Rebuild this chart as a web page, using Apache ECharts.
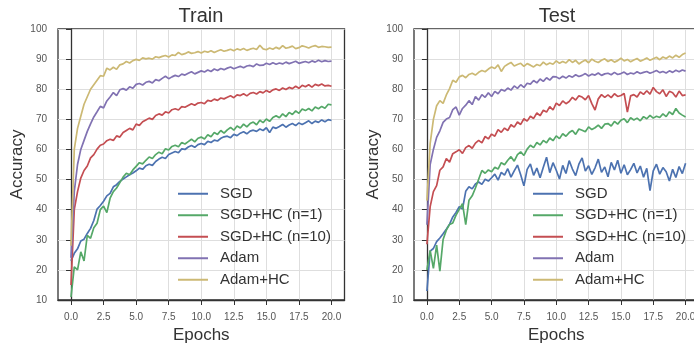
<!DOCTYPE html>
<html>
<head>
<meta charset="utf-8">
<script src="https://cdn.jsdelivr.net/npm/echarts@6/dist/echarts.min.js"></script>
<style>
  html, body { margin: 0; padding: 0; background: #ffffff; }
  #chart { width: 694px; height: 346px; }
</style>
</head>
<body>
<div id="chart"></div>
<script>
// epochs sampled every quarter epoch, 0 .. 20
const epochs = Array.from({ length: 81 }, (_, i) => i * 0.25);
const xTicks = [0, 2.5, 5, 7.5, 10, 12.5, 15, 17.5, 20];
const seriesNames = ["SGD", "SGD+HC (n=1)", "SGD+HC (n=10)", "Adam", "Adam+HC"];
const seriesColors = ["#4C72B0", "#55A868", "#C44E52", "#8172B2", "#CCB974"];
const panelTitles = ["Train", "Test"];

// ---- Train ----
const trainSgd = [
  23, 25.5, 27, 29.6, 30.2, 32.1, 33.8, 36.4,
  40.2, 41.4, 42.8, 44.6, 45.4, 47.6, 48.3, 49.4,
  50.2, 50.9, 51.6, 52.2, 52.9, 53.8, 53.4, 54.6,
  55.1, 54.7, 56.0, 56.8, 57.4, 57.0, 58.3, 58.8,
  59.3, 58.9, 60.2, 60.0, 60.8, 61.3, 60.7, 61.6,
  62.0, 61.6, 62.7, 62.3, 63.1, 62.8, 63.7, 64.2,
  64.4, 63.9, 65.0, 64.6, 65.4, 65.9, 65.2, 66.1,
  66.4, 66.0, 66.8, 66.3, 67.2, 65.6, 67.4, 67.0,
  67.6, 68.3, 67.4, 68.1, 68.6, 67.9, 68.8, 68.3,
  68.9, 69.5, 68.6, 69.4, 69.0, 69.8, 69.2, 69.9,
  69.6,
];
const trainSgdHc1 = [
  11, 21, 20, 26, 23, 31.5, 30.5, 34,
  35.5, 40, 41.2, 39, 43.8, 46, 47.2, 49,
  50.8, 52.1, 51.6, 53.2, 54.4, 55.6, 55.2, 56.4,
  57.5, 57.0, 58.3, 59.1, 58.6, 60.2, 59.8, 61.0,
  61.4, 60.9, 62.3, 61.8, 62.6, 63.4, 62.5, 63.7,
  64.1, 63.5, 64.9, 64.2, 65.6, 65.0, 66.3, 65.4,
  66.5, 67.3, 66.4, 67.8, 67.1, 68.4, 67.5, 68.6,
  69.1, 68.2, 69.7, 68.9, 70.1, 69.3, 70.6, 71.2,
  70.5, 71.8, 70.9, 72.3, 71.6, 72.8, 72.0, 73.4,
  72.9, 73.6, 72.8, 74.1, 73.5, 74.3, 73.7, 75.0,
  74.8,
];
const trainSgdHc10 = [
  15, 40, 46, 50.5, 53, 54.5, 57.2, 58.3,
  60.1, 61.4, 61.8, 62.9, 63.4, 63.0, 64.5, 64.1,
  65.6, 66.3, 67.0, 66.5, 68.4, 68.0, 69.2, 69.8,
  70.4, 70.0, 71.3, 71.8, 71.4, 72.5, 72.1, 73.2,
  73.5, 73.1, 74.2, 74.0, 74.6, 75.2, 74.7, 75.4,
  75.6, 75.2, 76.3, 76.0, 76.7, 76.3, 77.1, 76.8,
  77.3, 77.8, 77.2, 78.1, 77.9, 78.5, 77.8, 78.6,
  78.9, 78.4, 79.2, 78.8, 79.6, 79.0, 79.8, 80.1,
  79.6, 80.4, 79.9, 80.6, 80.2, 81.0, 80.3, 81.3,
  80.8, 81.5, 80.7, 81.6, 81.2, 81.7, 81.1, 81.3,
  81.0,
];
const trainAdam = [
  24, 46, 55, 60, 63, 66, 68.5, 70.8,
  72.5, 74.3, 73.8, 76.1, 77.4, 78.9, 77.9, 79.8,
  80.2, 79.7, 80.8, 80.3, 81.6, 81.9, 81.4, 82.3,
  82.6, 82.1, 83.2, 82.8, 83.6, 84.3, 83.5, 84.1,
  84.6, 84.2, 85.0, 84.7, 85.3, 85.8, 85.1, 85.6,
  86.1, 85.7, 86.4, 85.9, 86.7, 86.2, 86.9, 86.5,
  87.0, 87.4, 86.8, 87.2, 87.6, 87.1, 87.7, 87.9,
  87.5, 88.4, 87.9, 88.0, 88.6, 88.2, 88.8, 88.3,
  88.7, 88.4, 89.0, 88.5, 88.9, 89.3, 88.6, 88.9,
  89.2, 88.8, 89.4, 89.0, 89.6, 89.1, 89.5, 89.2,
  89.3,
];
const trainAdamHc = [
  28, 60, 67, 71, 75, 77.5, 80, 81.5,
  83, 84.5, 84.3, 87, 86.4, 87.3, 86.6, 88.1,
  88.4, 89.2, 88.7, 89.5, 89.9, 89.6, 90.4, 90.1,
  90.3, 90.0, 90.8, 90.5, 90.9, 91.2, 90.7, 91.4,
  91.2, 92.2, 91.5, 91.8, 92.4, 91.9, 92.1, 92.5,
  92.0, 92.6, 92.3, 92.8, 92.2, 92.7, 93.1, 92.6,
  92.9, 93.3, 92.8, 93.4, 93.0, 93.5, 92.9, 93.3,
  93.6, 93.2, 94.6, 93.4, 93.1, 93.7, 93.3, 93.9,
  93.4, 94.5, 93.6, 93.9, 94.3, 93.5, 93.8, 94.4,
  94.1, 93.7, 94.2, 94.5, 93.9, 94.2, 94.1, 93.9,
  94.0,
];

// ---- Test ----
const testSgd = [
  13, 26.2, 27.1, 29.4, 30.6, 32.0, 33.5, 35.2,
  37.6, 39.1, 41.0, 40.2, 46.1, 47.6, 46.9, 48.5,
  49.2, 48.4, 50.1, 49.5, 50.6, 51.8, 49.8, 52.4,
  51.5, 53.6, 50.8, 52.9, 54.8, 51.6, 47.9, 53.4,
  55.2, 51.4, 53.8, 50.6, 54.1, 57.4, 52.3, 55.6,
  53.1, 50.2, 54.7, 52.0, 56.3, 53.5, 51.3, 55.1,
  57.2, 52.8, 54.6, 51.7, 53.9, 56.8, 52.4, 54.2,
  50.9, 55.7, 53.2, 56.4, 52.1, 54.9, 51.6, 53.3,
  55.4, 52.2, 54.5, 50.8, 53.7, 46.3, 52.9, 55.1,
  51.8, 54.0, 52.6, 49.5, 53.4, 50.7, 54.3, 52.0,
  55.4,
];
const testSgdHc1 = [
  20, 26.5, 20.5, 28.2, 19.6, 30.1, 33.2, 35.1,
  35.6, 38.2, 40.1, 42.0, 35.0, 43.1, 44.6, 47.2,
  50.1, 53.0, 52.1, 53.2, 52.6, 54.1, 53.5, 55.6,
  54.9, 56.4, 57.6, 56.1, 58.3, 59.2, 58.0, 60.1,
  61.4, 60.6, 62.3, 61.5, 63.0, 62.2, 63.8, 62.9,
  64.5, 63.6, 65.2, 64.4, 65.6, 66.3, 65.0, 66.8,
  66.4, 65.9, 67.5, 66.6, 67.2, 68.1, 67.0, 68.4,
  68.6, 67.8, 69.3, 68.4, 69.7, 70.2, 68.9, 70.5,
  69.8, 70.4, 69.5, 70.9, 70.2, 71.3, 70.4, 71.0,
  70.6, 71.8, 70.9, 72.5, 71.6, 73.6, 72.1, 71.4,
  70.8,
];
const testSgdHc10 = [
  28.5, 41, 46, 48, 53.1, 54.2, 57.0, 55.8,
  58.6, 59.2, 59.9, 58.7, 60.6, 61.3, 60.4, 62.1,
  63.0, 62.2, 64.3, 63.5, 65.1, 64.4, 66.6, 65.7,
  67.1, 66.3, 68.2, 67.4, 69.1, 68.3, 70.2, 69.4,
  71.0, 70.3, 72.1, 71.2, 73.0, 72.4, 74.2, 73.1,
  75.4, 74.6, 76.1, 75.2, 75.9, 77.3, 76.4, 77.8,
  77.4, 76.5, 77.9, 75.2, 73.1, 76.8, 78.2, 77.3,
  78.1, 77.2, 78.5, 77.6, 77.9, 78.6, 72.4, 77.8,
  78.2, 77.4, 79.1, 78.3, 79.5, 78.4, 80.6, 79.2,
  78.5, 79.8, 77.6, 79.3, 78.8, 77.4, 79.4, 77.9,
  78.1,
];
const testAdam = [
  35, 55, 60, 64, 66.2, 69.0, 70.1, 70.6,
  73.2, 74.1, 71.4, 73.6, 74.7, 76.2, 74.9, 77.6,
  76.4, 78.2, 77.3, 78.8, 77.6, 79.3, 78.5, 79.9,
  79.4, 80.4, 79.7, 81.1, 80.3, 81.5, 80.6, 82.0,
  81.7, 82.9, 82.1, 83.4, 82.6, 83.8, 83.0, 84.2,
  84.1, 83.5, 84.3, 83.7, 84.5, 84.0, 84.8, 84.2,
  84.6, 85.2, 84.4, 85.0, 84.7, 85.4, 84.6, 85.1,
  85.3, 84.8, 85.6, 84.9, 85.2, 85.7, 84.9, 85.4,
  85.1, 85.8, 85.2, 85.6, 85.9, 85.3, 85.7, 86.2,
  85.5, 85.9, 85.4, 86.1, 85.6, 86.3, 85.8, 86.4,
  86.0,
];
const testAdamHc = [
  43, 62, 70, 74.5, 76.2, 75.3, 78.1, 80.2,
  83.0, 82.3, 84.1, 84.6, 83.8, 84.9, 85.3, 84.7,
  85.6, 86.2, 85.8, 86.7, 87.4, 86.9, 88.1, 85.9,
  87.6, 88.3, 88.9, 87.7, 88.2, 88.6, 87.6, 88.5,
  88.0, 87.4, 88.2, 87.8, 89.0, 88.1, 88.7, 88.3,
  89.4, 88.6, 89.2, 88.7, 89.8, 88.9, 89.6, 88.4,
  89.1, 89.7, 88.8, 90.0, 89.3, 88.9, 89.6, 90.1,
  89.2, 89.8, 89.0, 89.5, 90.3, 89.4, 89.9, 89.1,
  89.7, 90.2, 89.3, 89.8, 90.4, 89.6, 90.1, 90.6,
  89.8, 90.7, 90.2, 91.0, 90.4, 91.3, 90.6, 91.5,
  92.0,
];

const panels = [
  [trainSgd, trainSgdHc1, trainSgdHc10, trainAdam, trainAdamHc],
  [testSgd, testSgdHc1, testSgdHc10, testAdam, testAdamHc],
];

const fontFamily = '"Liberation Sans", Arial, sans-serif';
const gridLayout = [
  { left: 58, top: 29, width: 286.5, height: 271 },
  { left: 414, top: 29, width: 284.5, height: 271 },
];
const legendLeft = [178, 533];

function makeXAxis(gridIndex) {
  return {
    type: "value",
    gridIndex,
    min: -1,
    max: 21,
    name: "Epochs",
    nameLocation: "middle",
    nameGap: 25,
    nameTextStyle: { fontSize: 17, color: "#333", fontFamily },
    axisLine: { onZero: false, lineStyle: { color: "#333", width: 1.3 } },
    axisTick: {
      customValues: xTicks,
      length: 5,
      lineStyle: { color: "#333", width: 1 },
    },
    axisLabel: {
      customValues: xTicks,
      margin: 12,
      fontSize: 10,
      color: "#555",
      fontFamily,
      formatter: (value) => value.toFixed(1),
    },
    splitLine: { show: true, lineStyle: { color: "#dedede", width: 1 } },
  };
}

function makeYAxis(gridIndex) {
  return {
    type: "value",
    gridIndex,
    min: 10,
    max: 100,
    interval: 10,
    name: "Accuracy",
    nameLocation: "middle",
    nameGap: 32,
    nameTextStyle: { fontSize: 17, color: "#333", fontFamily },
    axisLine: { show: true, lineStyle: { color: "#333", width: 1.3 } },
    axisTick: { show: true, length: 5, lineStyle: { color: "#333", width: 1 } },
    axisLabel: { margin: 11, fontSize: 10, color: "#555", fontFamily },
    splitLine: { show: true, lineStyle: { color: "#dedede", width: 1 } },
  };
}

const series = [];
panels.forEach((panel, gridIndex) => {
  panel.forEach((values, k) => {
    series.push({
      type: "line",
      name: seriesNames[k],
      xAxisIndex: gridIndex,
      yAxisIndex: gridIndex,
      data: epochs.map((e, i) => [e, values[i]]),
      showSymbol: false,
      symbol: "none",
      smooth: false,
      color: seriesColors[k],
      lineStyle: { color: seriesColors[k], width: 1.7 },
      z: 3,
    });
  });
});

const option = {
  animation: false,
  backgroundColor: "#ffffff",
  textStyle: { fontFamily },
  title: panelTitles.map((text, i) => ({
    text,
    left: gridLayout[i].left + 143,
    top: 6,
    padding: 0,
    textAlign: "center",
    textStyle: { fontSize: 20, fontWeight: "normal", color: "#333", fontFamily },
  })),
  grid: gridLayout.map((g) => ({
    ...g,
    outerBoundsMode: "none",
    containLabel: false,
    show: true,
    borderColor: "#333",
    borderWidth: 1.3,
    backgroundColor: "transparent",
  })),
  legend: legendLeft.map((left) => ({
    data: seriesNames.map((name, k) => ({
      name,
      icon: "rect",
      itemStyle: { color: seriesColors[k] },
    })),
    orient: "vertical",
    left,
    top: 183,
    padding: 0,
    itemWidth: 30,
    itemHeight: 2,
    itemGap: 0,
    textStyle: {
      fontSize: 15,
      lineHeight: 21.5,
      color: "#333",
      fontFamily,
      padding: [0, 0, 0, 7],
    },
  })),
  xAxis: [makeXAxis(0), makeXAxis(1)],
  yAxis: [makeYAxis(0), makeYAxis(1)],
  series,
};

const chart = echarts.init(document.getElementById("chart"), undefined, { renderer: "canvas" });
chart.setOption(option);
</script>
</body>
</html>
